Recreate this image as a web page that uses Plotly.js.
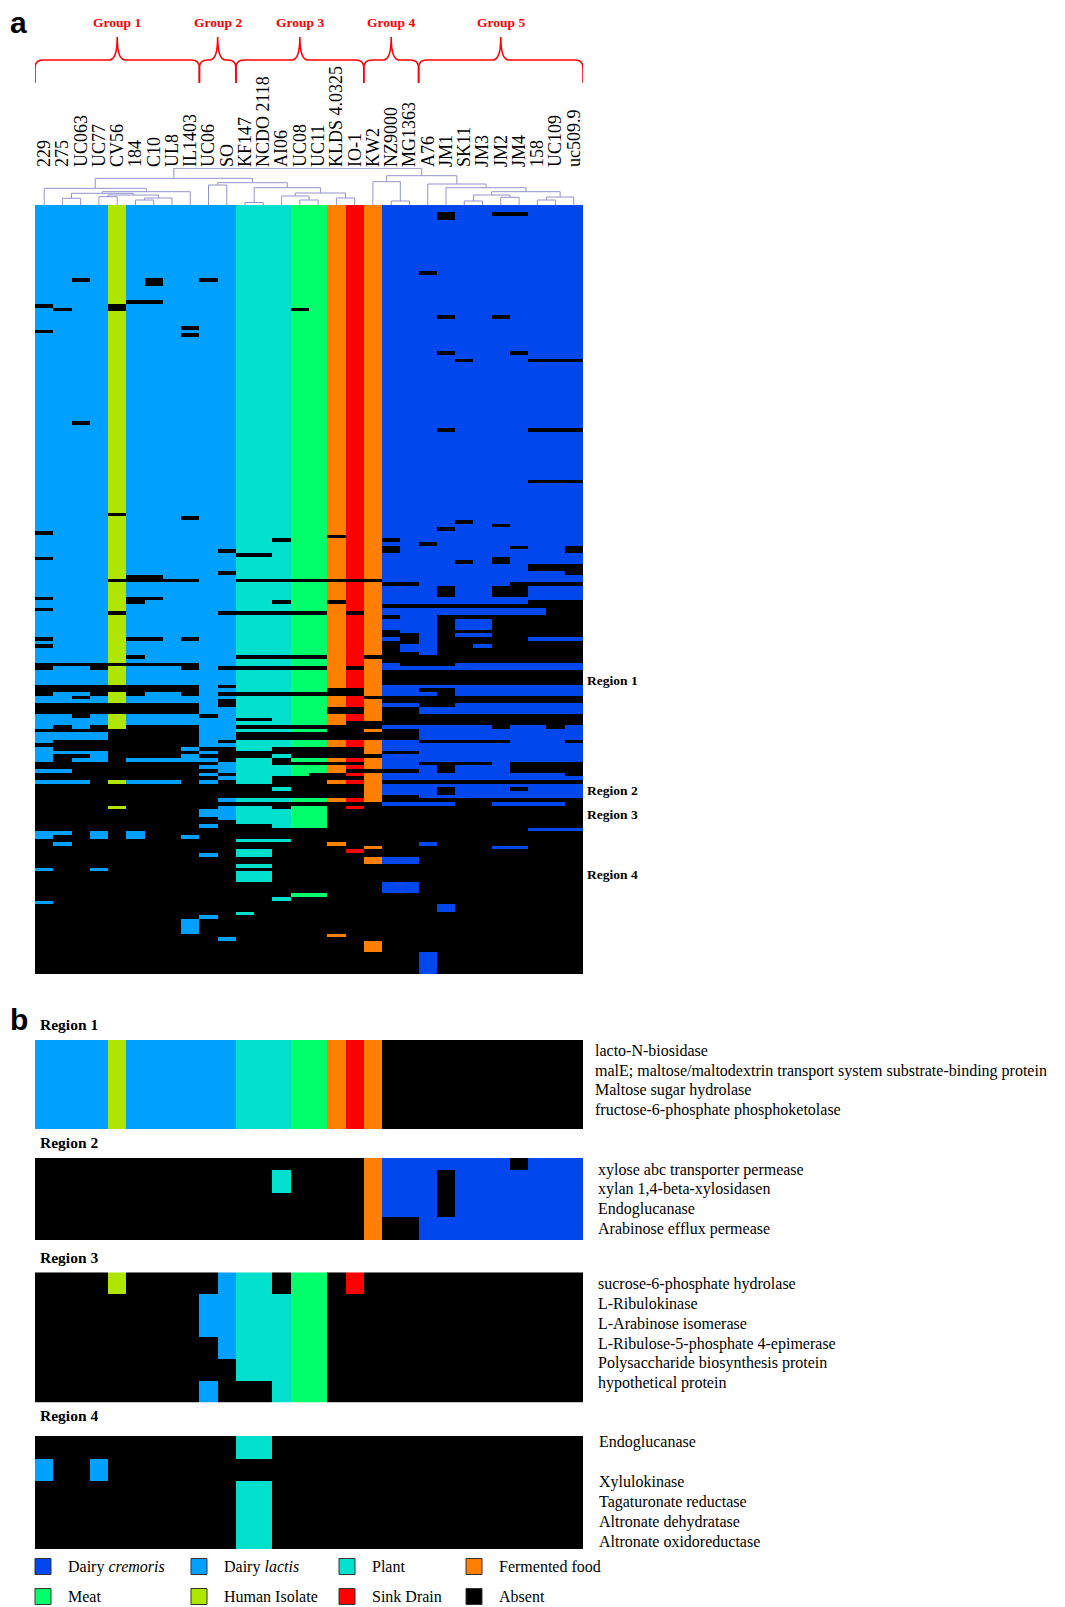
<!DOCTYPE html>
<html><head><meta charset="utf-8">
<script src="https://cdn.plot.ly/plotly-3.0.1.min.js"></script>
<style>body{margin:0;background:#fff}#chart{width:1065px;height:1607px}</style>
</head><body><div id="chart"></div>
<script>
// ---------------- DATA ----------------
const strains = ['229','275','UC063','UC77','CV56','184','C10','UL8','IL1403','UC06','SO','KF147','NCDO 2118','AI06','UC08','UC11','KLDS 4.0325','IO-1','KW2','NZ9000','MG1363','A76','JM1','SK11','JM3','JM2','JM4','158','UC109','uc509.9'];
const sourceNames = ['Absent','Dairy <i>cremoris</i>','Dairy <i>lactis</i>','Plant','Fermented food','Meat','Human Isolate','Sink Drain'];
const sourceColors = ['#000000','#0047EE','#00A0FF','#00E0CC','#FF8000','#00FF6A','#AEE600','#FF0000'];
const legendOrder = [1,2,3,4,5,6,7,0];
const strainSource = [2,2,2,2,6,2,2,2,2,2,2,3,3,3,5,5,4,7,4,1,1,1,1,1,1,1,1,1,1,1];
const groupNames = ['Group 1','Group 2','Group 3','Group 4','Group 5'];
const groupFirst = [0,9,11,18,21];
const groupLast  = [8,10,17,20,29];
const geneCount = 210;
// gene rows (0 = top) in which each strain carries the gene
const presentRuns = [
 "0-26,28-33,35-88,90-95,97-106,108-109,111-117,119,121-124,127-130,134-135,139-142,144-146,148-151,154,157,171-172,181,190",
 "0-27,29-124,126-130,133-135,139-141,144-145,149,154,157,171,174",
 "0-19,21-58,60-124,126-130,133,135,140-142,144-145,149,151,157",
 "0-124,127-130,134-135,139-141,144-145,149-151,171-172,181",
 "0-26,29-83,85-101,103-110,112-124,126-130,133-135,139-142,157,164",
 "0-25,27-100,103-106,109-117,119-122,124,126-130,134-135,139-141,151,157,171-172",
 "0-19,22-25,27-100,103-106,108-117,119-124,126-130,133-135,139-141,151,157",
 "0-101,103-124,126-130,133-135,139-141,151,157",
 "0-32,34,36-84,86-101,103-117,119-124,127-130,134-135,139-141,148,150-151,172,195-198",
 "0-19,21-138,140-147,149,151,153,155,157,165-166,169,177,194",
 "0-93,95-99,101-110,112-125,127-130,132,134,137-145,147,152-154,156,162,164-167,200",
 "0-94,96-101,103-110,112-122,124-125,127-132,134-139,141,143,146-148,151-157,162,164-168,173,176-177,180,182-184,193",
 "0-94,96-101,103-110,112-122,124-125,127-132,134-139,141,143,146-148,151-157,162,164-168,173,176-177,180,182-184",
 "0-90,92-101,103-107,109-110,112-122,124-125,127-132,134-141,143,146-147,150,153-155,159,162,165-169,173,189",
 "0-27,29-101,103-110,112-122,124-125,127-132,134-141,143,146-147,151,153-155,162,164-169,188",
 "0-101,103-110,112-122,124-125,127-132,134-141,143,146-147,151,153-154,162,164-169,188",
 "0-89,91-101,103-107,109-131,134-136,139-141,146-147,151,153-154,157,162,174,199",
 "0-101,103-110,112-125,127-131,134-136,139-140,146-147,151,153,155,157,162,164,176",
 "0-101,103-122,124-133,135-140,143,146-149,151-153,155-162,175,178-179,201-203",
 "0-90,92,95-102,104-108,110-111,113-115,118,125-126,131-133,136,142,146-148,150-153,155-156,158-160,163,178-179,185-187",
 "0-102,104-108,110-116,120-121,126,131-133,136,142,146-148,150-153,155-156,158-160,163,178-179,185-187",
 "0-17,19-91,93-108,110-122,126,131,133,137-138,142-145,147-151,153-156,158-161,163,174,204-209",
 "0-1,4-29,31-39,41-60,62-87,89-103,107-108,110-111,126,131,137-138,142-145,147-151,155-156,158,161,163,191-192",
 "0-41,43-85,87-96,98-108,110-111,113-115,117,125-126,131-133,136-138,142-145,147-151,153-156,158-161",
 "0-108,110-111,113-115,117,120,125-126,131-133,136-138,142-145,147-151,153-156,158-161",
 "0-1,3-29,31-86,88-95,98-103,107-108,110-111,125-126,131-133,136-138,143-145,147-156,158-161,163,175",
 "0-1,3-39,41-92,94-102,107-108,110-111,125-126,131-133,136-138,142-151,155-156,158,160-161,163,175",
 "0-41,43-60,62-74,76-97,100-102,104-107,110-111,118,125-126,131-133,136-138,142-151,155-156,158-161,163,170",
 "0-41,43-60,62-74,76-97,100-102,104-107,118,125-126,131-133,136-138,143-151,155-156,158-161,163,170",
 "0-41,43-60,62-74,76-92,95-97,101-102,104-107,118,125-126,131-133,136-138,142-145,147-151,156,158-161,170"
];
// dendrogram merges: [child A, child B, height]; new node ids start at 30
const dendroMerges = [
 [1,2,6.7],[5,6,5],[31,7,7],[3,4,8.3],[33,32,10],[30,34,11.7],[35,8,13.3],[0,36,16.7],
 [9,10,20],[11,12,2.5],[14,15,5],[13,40,9],[16,17,7],[41,42,12],[39,43,17.3],[38,44,22.3],[37,45,26.7],
 [19,20,4],[18,47,23.3],[23,24,4],[25,26,7.7],[49,50,10],[27,28,5],[52,29,8],[51,53,13.3],[22,54,17.3],[21,55,21],[48,56,29.3],[46,57,36.7]
];
// panel b: presence per strain (one string per gene row, 30 characters)
const region1Rows = [
 "111111111111111111100000000000","111111111111111111100000000000",
 "111111111111111111100000000000","111111111111111111100000000000"];
const region2Rows = [
 "000000000000000000111111110111",
 "000000000000010000111101111111","000000000000010000111101111111",
 "000000000000000000111101111111","000000000000000000111101111111",
 "000000000000000000100111111111","000000000000000000100111111111"];
const region3Rows = [
 "000010000011101101000000000000",
 "000000000111111100000000000000",
 "000000000111111100000000000000",
 "000000000011111100000000000000",
 "000000000001111100000000000000",
 "000000000100011100000000000000"];
const region4Rows = [
 "000000000001100000000000000000",
 "100100000000000000000000000000",
 "000000000001100000000000000000","000000000001100000000000000000","000000000001100000000000000000"];
const region1Genes = ['lacto-N-biosidase','malE; maltose/maltodextrin transport system substrate-binding protein','Maltose sugar hydrolase','fructose-6-phosphate phosphoketolase'];
const region2Genes = ['xylose abc transporter permease','xylan 1,4-beta-xylosidasen','Endoglucanase','Arabinose efflux permease'];
const region3Genes = ['sucrose-6-phosphate hydrolase','L-Ribulokinase','L-Arabinose isomerase','L-Ribulose-5-phosphate 4-epimerase','Polysaccharide biosynthesis protein','hypothetical protein'];
const region4Genes = ['Endoglucanase','','Xylulokinase','Tagaturonate reductase','Altronate dehydratase','Altronate oxidoreductase'];
const regionTitles = ['Region 1','Region 2','Region 3','Region 4'];

// ---------------- BUILD ----------------
const W = 1065, H = 1607;
const X = px => px / W, Y = py => 1 - py / H;
const colPx = (583 - 35) / strains.length;
const idx = strains.map((_, i) => i);

function parseRuns(s, n) {
  const a = new Array(n).fill(0);
  s.split(',').forEach(p => {
    const q = p.split('-').map(Number);
    const lo = q[0], hi = q.length > 1 ? q[1] : q[0];
    for (let i = lo; i <= hi; i++) a[i] = 1;
  });
  return a;
}
const pres = presentRuns.map(s => parseRuns(s, geneCount));
const zMain = [];
for (let r = 0; r < geneCount; r++) zMain.push(idx.map(c => pres[c][r] ? strainSource[c] : 0));
const rowsToZ = rows => rows.map(s => idx.map(c => s[c] === '1' ? strainSource[c] : 0));

const cs = [];
sourceColors.forEach((col, k) => { cs.push([k / 8, col]); cs.push([(k + 1) / 8, col]); });

function hm(z, ya) {
  return {type: 'heatmap', z: z, x: idx, y: z.map((_, i) => i), colorscale: cs, zmin: -0.5, zmax: 7.5,
          showscale: false, hoverinfo: 'skip', xaxis: 'x', yaxis: ya, zsmooth: false};
}

// dendrogram segments
const pos = idx.slice(), hgt = idx.map(() => 0);
const dx = [], dy = [];
dendroMerges.forEach(m => {
  const [a, b, h] = m;
  dx.push(pos[a], pos[a], pos[b], pos[b], null);
  dy.push(hgt[a], h, h, hgt[b], null);
  pos.push((pos[a] + pos[b]) / 2); hgt.push(h);
});

const traces = [
  hm(zMain, 'y'),
  {type: 'scatter', mode: 'lines', x: dx, y: dy, xaxis: 'x2', yaxis: 'y2',
   line: {color: '#9494CC', width: 1}, hoverinfo: 'skip'},
  hm(rowsToZ(region1Rows), 'y3'),
  hm(rowsToZ(region2Rows), 'y4'),
  hm(rowsToZ(region3Rows), 'y5'),
  hm(rowsToZ(region4Rows), 'y6')
];

const serif = 'Liberation Serif, Times New Roman, serif';
const ann = [];
const shapes = [];
function txt(t, x, y, size, opts) {
  ann.push(Object.assign({xref: 'paper', yref: 'paper', x: X(x), y: Y(y), xanchor: 'left', yanchor: 'middle',
    text: t, showarrow: false, font: {family: serif, size: size, color: '#000'}}, opts || {}));
}
txt('<b>a</b>', 8, 22.5, 30, {font: {family: 'Liberation Sans, Arial, sans-serif', size: 30, color: '#000'}});
txt('<b>b</b>', 8, 1019.5, 30, {font: {family: 'Liberation Sans, Arial, sans-serif', size: 30, color: '#000'}});

// group braces
groupNames.forEach((g, i) => {
  const x0 = groupFirst[i] - 0.5, x1 = groupLast[i] + 0.5, xm = (x0 + x1) / 2;
  const r = 8 / colPx;
  const yB = Y(83), yC = Y(68), yM = Y(60), yT = Y(37);
  shapes.push({type: 'path', xref: 'x', yref: 'paper', line: {color: '#FF0000', width: 1.6},
    path: `M${x0},${yB} L${x0},${yC} Q${x0},${yM} ${x0 + r},${yM} L${xm - r},${yM} Q${xm},${yM} ${xm},${yT} Q${xm},${yM} ${xm + r},${yM} L${x1 - r},${yM} Q${x1},${yM} ${x1},${yC} L${x1},${yB}`});
  ann.push({xref: 'x', yref: 'paper', x: xm, y: Y(23), xanchor: 'center', yanchor: 'middle', showarrow: false,
    text: '<b>' + g + '</b>', font: {family: serif, size: 13.5, color: '#FF0000'}});
});

// region labels on panel a
[680.5, 790, 814, 874].forEach((p, i) => txt('<b>' + regionTitles[i] + '</b>', 585, p, 13.5));

// panel b titles and gene labels
const titleY = [1024, 1142.5, 1257.5, 1415.5];
regionTitles.forEach((t, i) => txt('<b>' + t + '</b>', 38, titleY[i], 15.5));
const geneSets = [region1Genes, region2Genes, region3Genes, region4Genes];
const geneX = [593, 596, 596, 597], geneY0 = [1050.7, 1169.5, 1284, 1442.3];
geneSets.forEach((set, i) => set.forEach((g, j) => { if (g) txt(g, geneX[i], geneY0[i] + j * 19.85, 16); }));

// legend
const legX = [35, 191, 339, 466], legY = [1566.5, 1596.5];
legendOrder.forEach((k, n) => {
  const cx = legX[n % 4], cy = legY[Math.floor(n / 4)];
  shapes.push({type: 'rect', xref: 'paper', yref: 'paper', x0: X(cx), x1: X(cx + 16), y0: Y(cy + 8), y1: Y(cy - 8),
    fillcolor: sourceColors[k], line: {color: '#333', width: 1}});
  txt(sourceNames[k], cx + 31, cy, 16);
});

const layout = {
  width: W, height: H, margin: {l: 0, r: 0, t: 0, b: 0}, paper_bgcolor: '#fff', plot_bgcolor: 'rgba(0,0,0,0)',
  showlegend: false,
  xaxis: {domain: [X(35), X(583)], range: [-0.5, 29.5], visible: false},
  yaxis: {domain: [Y(974), Y(205)], range: [geneCount - 0.5, -0.5], visible: false},
  xaxis2: {domain: [X(35), X(583)], range: [-0.5, 29.5], anchor: 'y2', side: 'top', tickmode: 'array',
    tickvals: idx, ticktext: strains, tickangle: -90, ticks: '', showgrid: false, zeroline: false, showline: false,
    tickfont: {family: serif, size: 18, color: '#000'}},
  yaxis2: {domain: [Y(205), Y(168)], range: [0, 37], visible: false, anchor: 'x2'},
  yaxis3: {domain: [Y(1129), Y(1040)], range: [region1Rows.length - 0.5, -0.5], visible: false, anchor: 'x'},
  yaxis4: {domain: [Y(1240), Y(1158)], range: [region2Rows.length - 0.5, -0.5], visible: false, anchor: 'x'},
  yaxis5: {domain: [Y(1402.7), Y(1272.3)], range: [region3Rows.length - 0.5, -0.5], visible: false, anchor: 'x'},
  yaxis6: {domain: [Y(1549), Y(1436)], range: [region4Rows.length - 0.5, -0.5], visible: false, anchor: 'x'},
  annotations: ann, shapes: shapes
};
Plotly.newPlot('chart', traces, layout, {staticPlot: true});
</script>
</body></html>
